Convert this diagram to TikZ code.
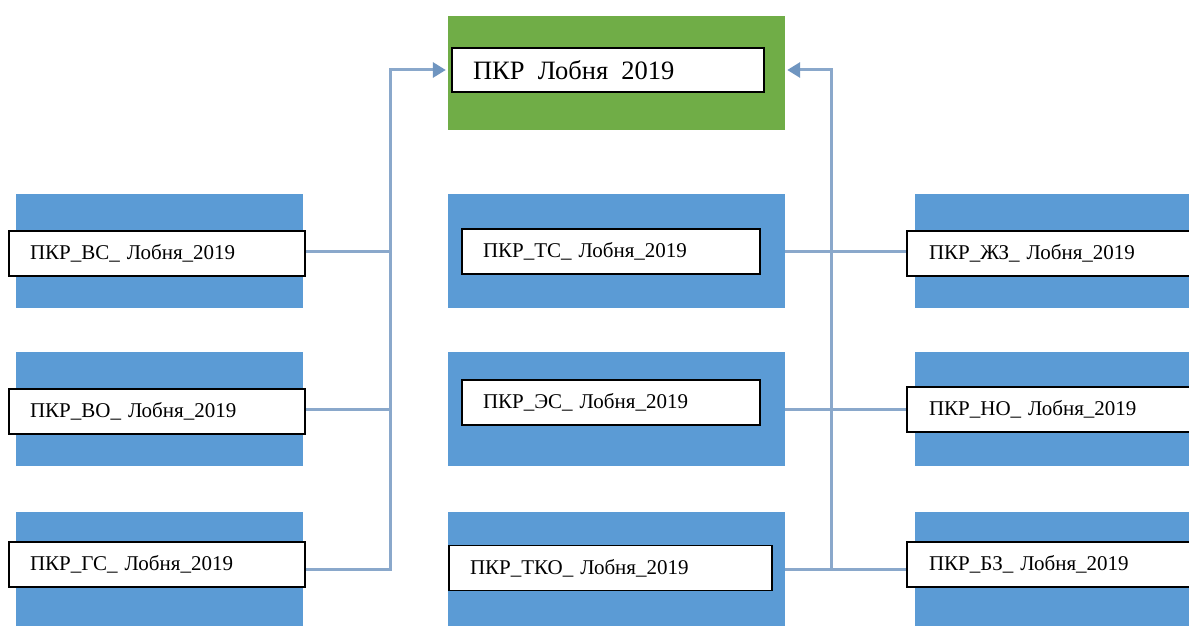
\documentclass[tikz,border=0pt]{standalone}
\usepackage{fontspec}
\setmainfont{Liberation Serif}
\usetikzlibrary{arrows.meta}

\definecolor{blockblue}{HTML}{5B9BD5}
\definecolor{topgreen}{HTML}{70AD47}
\definecolor{linkblue}{HTML}{8AA8CB}
\definecolor{tipblue}{HTML}{6F95C0}

\newcommand{\tagfont}{\fontsize{21}{24}\selectfont}
\newcommand{\topfont}{\fontsize{26.5}{30}\selectfont}

\tikzset{
  blk/.style={fill=blockblue, minimum width=#1, minimum height=114, inner sep=0pt},
  tag/.style={draw=black, line width=1.5pt, fill=white, minimum height=45, inner xsep=21pt,
    inner ysep=0pt, text width=#1, align=left, font=\tagfont},
  link/.style={draw=linkblue, line width=3pt},
  tip/.style={-{Triangle[length=13pt,width=15pt,fill=tipblue,color=tipblue]}},
}

\begin{document}
\begin{tikzpicture}[x=1pt, y=-1pt]
    \clip (0,0) rectangle (1189,626);
    \fill[white] (0,0) rectangle (1189,626);

    % blue blocks
    \foreach \y/\n in {251/1, 409/2, 569/3} {
        \node[blk=287] (l\n) at (159.5,\y) {};
        \node[blk=337] (m\n) at (616.5,\y) {};
        \node[blk=335] (r\n) at (1082.5,\y) {};
    }

    % top block
    \node[fill=topgreen, minimum width=337, minimum height=114, inner sep=0pt] (top) at (616.5,73) {};
    \node[tag=270, minimum height=44, font=\topfont] (pkr) at (608,70) {ПКР\enspace Лобня\enspace 2019};

    % labels
    \node[tag=254] (vs) at (157,253.5) {ПКР\_ВС\_ Лобня\_2019};
    \node[tag=254] (vo) at (157,411.5) {ПКР\_ВО\_ Лобня\_2019};
    \node[tag=254] (gs) at (157,564.5) {ПКР\_ГС\_ Лобня\_2019};

    \node[tag=256] (tc) at (611,251.5) {ПКР\_ТС\_ Лобня\_2019};
    \node[tag=256] (es) at (611,402.5) {ПКР\_ЭС\_ Лобня\_2019};
    \node[tag=281] (tko) at (610.5,568) {ПКР\_ТКО\_ Лобня\_2019};

    \node[tag=260, inner xsep=22pt] (zhz) at (1059,253.5) {ПКР\_ЖЗ\_ Лобня\_2019};
    \node[tag=260, inner xsep=22pt] (no) at (1059,409.5) {ПКР\_НО\_ Лобня\_2019};
    \node[tag=260, inner xsep=22pt] (bz) at (1059,564.5) {ПКР\_БЗ\_ Лобня\_2019};

    \coordinate (jl) at (390,70);
    \coordinate (jr) at (831,70);

    % left bus
    \draw[link] (vs.east |- l1.east) -- (l1.east -| jl);
    \draw[link] (vo.east |- l2.east) -- (l2.east -| jl);
    \draw[link, tip] (gs.east |- l3.east) -| (jl) -- ([xshift=-2pt]jl -| top.west);

    % right bus
    \draw[link] (m1.east) -- (m1.east -| zhz.west);
    \draw[link] (m2.east) -- (m2.east -| no.west);
    \draw[link] (m3.east) -- (m3.east -| bz.west);
    \draw[link, tip] (m3.east -| jr) -- (jr) -- ([xshift=2pt]jr -| top.east);
\end{tikzpicture}
\end{document}
